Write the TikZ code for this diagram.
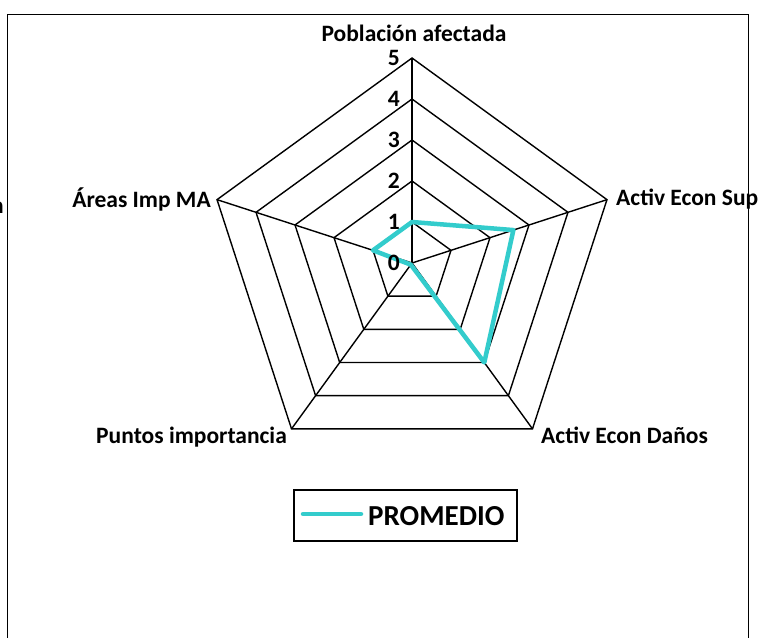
\documentclass[tikz,border=0pt]{standalone}
\usepackage{fontspec}
\setmainfont{Carlito}
\begin{document}
\begin{tikzpicture}[x=1pt,y=-1pt,
  gridline/.style={draw=black, line width=1.4pt, line join=miter},
  serie/.style={draw=teal0, line width=4.5pt, line join=round, line cap=round},
  lbl/.style={font=\fontsize{23.5}{26}\selectfont\bfseries, inner sep=0pt},
  num/.style={font=\fontsize{23.5}{26}\selectfont\bfseries, inner sep=0pt, anchor=east},
  legtext/.style={font=\fontsize{29}{32}\selectfont\bfseries, inner sep=0pt, anchor=west}]
\definecolor{teal0}{RGB}{51,204,204}
\useasboundingbox (0,0) rectangle (760,637);
\fill[white] (0,0) rectangle (760,637);
\draw[line width=1pt] (7,700) -- (7,14) -- (748,14) -- (748,700);
\node[lbl, anchor=east] (cut) at (4,208) {n};
\begin{scope}[shift={(412,263)}, yscale=-1]
  \coordinate (c) at (0,0);
  \foreach \k in {1,...,5} {
    \draw[gridline] (90:\k*41) -- (18:\k*41) -- (-54:\k*41) -- (-126:\k*41) -- (162:\k*41) -- cycle;
  }
  \foreach \a/\n in {90/a,18/b,-54/c,-126/d,162/e} {
    \coordinate (v\n) at (\a:205);
    \draw[gridline] (c) -- (v\n);
  }
  \coordinate (p1) at (90:41);
  \coordinate (p2) at (18:2.6*41);
  \coordinate (p3) at (-54:3*41);
  \coordinate (p4) at (-126:0.05*41);
  \coordinate (p5) at (162:41);
  \draw[serie] (p1) -- (p2) -- (p3) -- (p4) -- (p5) -- cycle;
\end{scope}
\foreach \k in {0,...,5} {
  \node[num] (n\k) at (400,{263-\k*41}) {\k};
}
\node[lbl] (la) at (414,33) {Población afectada};
\node[lbl, anchor=west] (lb) at (616,199) {Activ Econ Sup};
\node[lbl, anchor=north west] (lc) at (541,427) {Activ Econ Daños};
\node[lbl, anchor=north east] (ld) at (287,427) {Puntos importancia};
\node[lbl, anchor=east] (le) at (211,199) {Áreas Imp MA};
\node[draw=black, line width=1.3pt, minimum width=223pt, minimum height=51pt, inner sep=0pt] (leg) at (405.5,515.5) {};
\coordinate (l1) at (303,514);
\coordinate (l2) at (361,514);
\draw[serie] (l1) -- (l2);
\node[legtext] (lt) at (368,516) {PROMEDIO};
\end{tikzpicture}
\end{document}
